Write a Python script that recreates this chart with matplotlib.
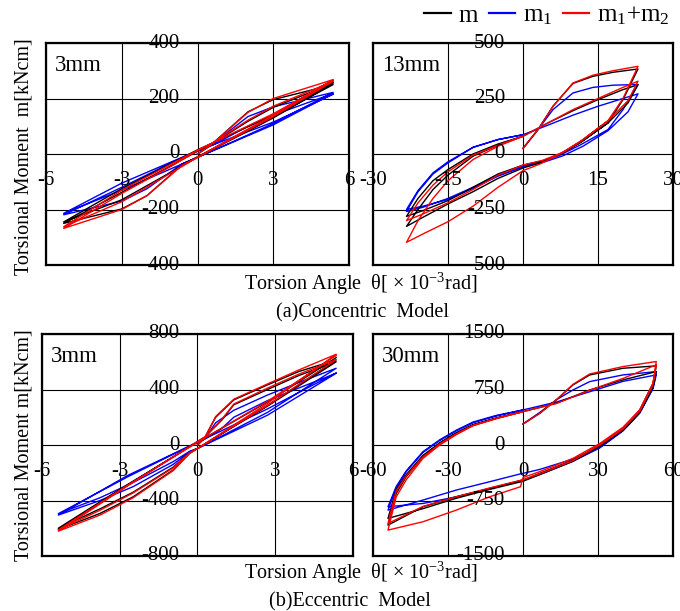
import matplotlib
matplotlib.use("Agg")
import matplotlib.pyplot as plt
from matplotlib.lines import Line2D

plt.rcParams["font.family"] = ["Liberation Serif", "DejaVu Serif"]
plt.rcParams["mathtext.fontset"] = "custom"
plt.rcParams["mathtext.rm"] = "Liberation Serif"
plt.rcParams["mathtext.it"] = "Liberation Serif:italic"

# (a) concentric, 3mm  -- torsion angle [1e-3 rad], moment [kNcm]
a3_x = [0, 0.5, 2.0, 3.0, 5.37, 3.0, 1.0, 0.0, -0.6, -2.0, -3.0, -5.3, -3.0, -1.0, 0.0,
        0.6, 2.0, 3.0, 5.37, 3.0, 0.0, -3.0, -5.3, -3.0, 0.0, 3.0, 5.37]
a3_m = [0, 30, 152, 196, 250, 135, 38, -10, -38, -150, -198, -250, -138, -40, 10,
        38, 118, 168, 255, 130, -12, -165, -245, -125, 15, 140, 258]
a3_m1 = [0, 30, 135, 170, 222, 110, 28, -12, -35, -125, -170, -219, -120, -30, 10,
         32, 100, 140, 218, 105, -12, -130, -214, -105, 12, 115, 215]
a3_m12 = [0, 30, 150, 200, 268, 140, 40, -12, -40, -150, -200, -268, -142, -42, 12,
          40, 122, 172, 262, 135, -12, -172, -262, -130, 14, 145, 265]

# (a) concentric, 13mm
a13_x = [0, 3, 6, 10, 14, 18, 23,
         20, 17, 11.4, 7.4, 3.4, 0, -5, -10, -15, -20, -23.3,
         -21, -18, -15, -10, -5, 0, 5, 10, 15, 20, 23,
         21, 17, 12, 8, 4, 0, -5, -10, -15, -20, -23.3,
         -21, -18, -15, -10, -5, 0]
a13_m = [25, 110, 215, 318, 350, 368, 383,
         245, 140, 50, 0, -40, -63, -110, -170, -225, -285, -326,
         -250, -160, -95, -10, 40, 80, 140, 195, 245, 290, 312,
         230, 140, 60, 5, -30, -50, -90, -150, -210, -255, -281,
         -200, -120, -70, 0, 45, 80]
a13_m1 = [25, 110, 200, 275, 300, 310, 313,
          200, 110, 40, -5, -35, -55, -95, -150, -200, -240, -259,
          -170, -90, -40, 30, 65, 87, 130, 175, 215, 250, 271,
          190, 105, 35, -8, -38, -58, -100, -155, -205, -235, -250,
          -165, -85, -35, 30, 65, 87]
a13_m12 = [25, 110, 215, 320, 355, 375, 395,
           250, 150, 55, 0, -45, -75, -150, -235, -305, -360, -398,
           -300, -200, -120, -25, 35, 80, 140, 200, 250, 300, 328,
           240, 150, 65, 8, -28, -50, -95, -160, -220, -270, -300,
           -220, -140, -80, -5, 40, 80]

# (b) eccentric, 3mm
b3_x = [0, 0.3, 0.7, 1.4, 2.7, 3.9, 5.35,
        2.7, 0.0, -0.3, -0.94, -2.48, -3.76, -5.37,
        -2.7, 0.0, 0.3, 0.94, 1.4, 2.7, 3.9, 5.35,
        2.7, 0.0, -0.3, -0.94, -2.48, -3.76, -5.37,
        -2.7, 0.0, 2.7, 5.35]
b3_m = [0, 60, 200, 325, 433, 529, 613,
        285, -25, -60, -180, -373, -493, -609,
        -290, 25, 60, 180, 290, 400, 500, 600,
        280, -25, -55, -160, -340, -460, -600,
        -285, 20, 310, 630]
b3_m1 = [0, 50, 160, 250, 360, 450, 553,
         235, -25, -50, -140, -300, -400, -505,
         -220, 20, 45, 120, 200, 320, 410, 517,
         215, -25, -45, -120, -270, -380, -495,
         -230, 20, 260, 520]
b3_m12 = [0, 60, 205, 330, 440, 540, 654,
          300, -25, -60, -185, -380, -505, -621,
          -295, 25, 60, 185, 295, 410, 510, 615,
          285, -25, -55, -165, -345, -470, -612,
          -290, 20, 315, 645]

# (b) eccentric, 30mm
b30_x = [0, 6.7, 13.3, 20, 26.7, 40, 53.3,
         52, 46.7, 40, 30.7, 20, 6.7, 0, -1, -13.3, -26.7, -40, -54,
         -50.7, -46.7, -40, -33.3, -26.7, -20, -10.7, 0, 13.3, 26.7, 40, 53.3,
         52, 46.7, 40, 30.7, 20, 6.7, 0, -13.3, -26.7, -40, -54,
         -50.7, -46.7, -40, -33.3, -26.7, -20, -10.7, 0]
b30_m = [284, 428, 609, 812, 947, 1037, 1069,
         834, 474, 225, 0, -203, -383, -474, -480, -586, -699, -834, -1083,
         -654, -428, -158, 23, 158, 271, 361, 451, 564, 744, 880, 992,
         780, 440, 200, -20, -220, -400, -490, -600, -720, -860, -992,
         -600, -400, -140, 30, 165, 275, 365, 451]
b30_m1 = [284, 440, 610, 744, 857, 947, 992,
          780, 440, 200, -30, -190, -330, -383, -390, -496, -609, -744, -880,
          -580, -360, -100, 60, 190, 300, 390, 474, 580, 720, 860, 947,
          760, 430, 190, -40, -220, -400, -474, -590, -700, -790, -834,
          -560, -350, -90, 70, 200, 310, 400, 474]
b30_m12 = [284, 428, 609, 820, 960, 1060, 1128,
           834, 474, 240, 20, -180, -360, -440, -564, -699, -880, -1037, -1150,
           -700, -470, -180, 0, 140, 260, 355, 451, 560, 740, 900, 1083,
           820, 460, 215, 0, -210, -390, -470, -580, -700, -830, -1060,
           -620, -420, -160, 15, 150, 265, 360, 451]

xt_small = [-6, -3, 0, 3, 6]
xt_13 = [-30, -15, 0, 15, 30]
xt_30 = [-60, -30, 0, 30, 60]
yt_a3 = [-400, -200, 0, 200, 400]
yt_a13 = [-500, -250, 0, 250, 500]
yt_b3 = [-800, -400, 0, 400, 800]
yt_b30 = [-1500, -750, 0, 750, 1500]

colors = {"m": "black", "m1": "#0000ff", "m12": "#ff0000"}

fig = plt.figure(figsize=(6.8, 6.11), dpi=100)


def panel(rect, x, m, m1, m12, xt, yt, tag):
    ax = fig.add_axes(rect)
    ax.plot(x, m1, color=colors["m1"], lw=1.0)
    ax.plot(x, m, color=colors["m"], lw=1.0)
    ax.plot(x, m12, color=colors["m12"], lw=1.0)
    ax.set_xlim(xt[0], xt[-1])
    ax.set_ylim(yt[0], yt[-1])
    ax.set_xticks(xt)
    ax.set_yticks(yt)
    ax.tick_params(length=0, labelbottom=False, labelleft=False)
    ax.grid(True, color="black", lw=0.8)
    for s in ax.spines.values():
        s.set_linewidth(1.6)
    for v in xt:
        ax.annotate(f"{v:g}", xy=(v, 0), xytext=(0, -19), textcoords="offset points",
                    ha="center", va="center", fontsize=15, annotation_clip=False)
    for v in yt:
        ax.annotate(f"{v:g}", xy=(0, v), xytext=(-13, 0), textcoords="offset points",
                    ha="right", va="center", fontsize=15, annotation_clip=False)
    ax.text(0.03, 0.9, tag, transform=ax.transAxes, fontsize=16.5, va="center")
    return ax


W, H = 680, 611
panel([46 / W, (H - 265) / H, 303 / W, 222 / H], a3_x, a3_m, a3_m1, a3_m12, xt_small, yt_a3, "3mm")
panel([373 / W, (H - 265) / H, 300 / W, 222 / H], a13_x, a13_m, a13_m1, a13_m12, xt_13, yt_a13, "13mm")
panel([42 / W, (H - 556) / H, 311 / W, 222 / H], b3_x, b3_m, b3_m1, b3_m12, xt_small, yt_b3, "3mm")
panel([373 / W, (H - 556) / H, 300 / W, 222 / H], b30_x, b30_m, b30_m1, b30_m12, xt_30, yt_b30, "30mm")

fig.text(0.035, 1 - 157 / H, "Torsional Moment  m[kNcm]", rotation=90, ha="center", va="center", fontsize=14.5)
fig.text(0.035, 1 - 445 / H, "Torsional Moment m[kNcm]", rotation=90, ha="center", va="center", fontsize=14.5)
xlab = "Torsion Angle  θ[ × 10$^{-3}$rad]"
fig.text(361 / W, 1 - 284 / H, xlab, ha="center", va="center", fontsize=14.5)
fig.text(361 / W, 1 - 573 / H, xlab, ha="center", va="center", fontsize=14.5)
fig.text(362 / W, 1 - 313 / H, "(a)Concentric  Model", ha="center", va="center", fontsize=14.5)
fig.text(350 / W, 1 - 602 / H, "(b)Eccentric  Model", ha="center", va="center", fontsize=14.5)

handles = [Line2D([], [], color=colors["m"], lw=1.6),
           Line2D([], [], color=colors["m1"], lw=1.6),
           Line2D([], [], color=colors["m12"], lw=1.6)]
fig.legend(handles, ["m", "m$_1$", "m$_1$+m$_2$"], loc="upper right",
           bbox_to_anchor=(692 / W, 1.03), ncol=3, frameon=False, fontsize=18,
           handlelength=1.05, handletextpad=0.3, columnspacing=0.45)

fig.savefig("out.png", dpi=100)
